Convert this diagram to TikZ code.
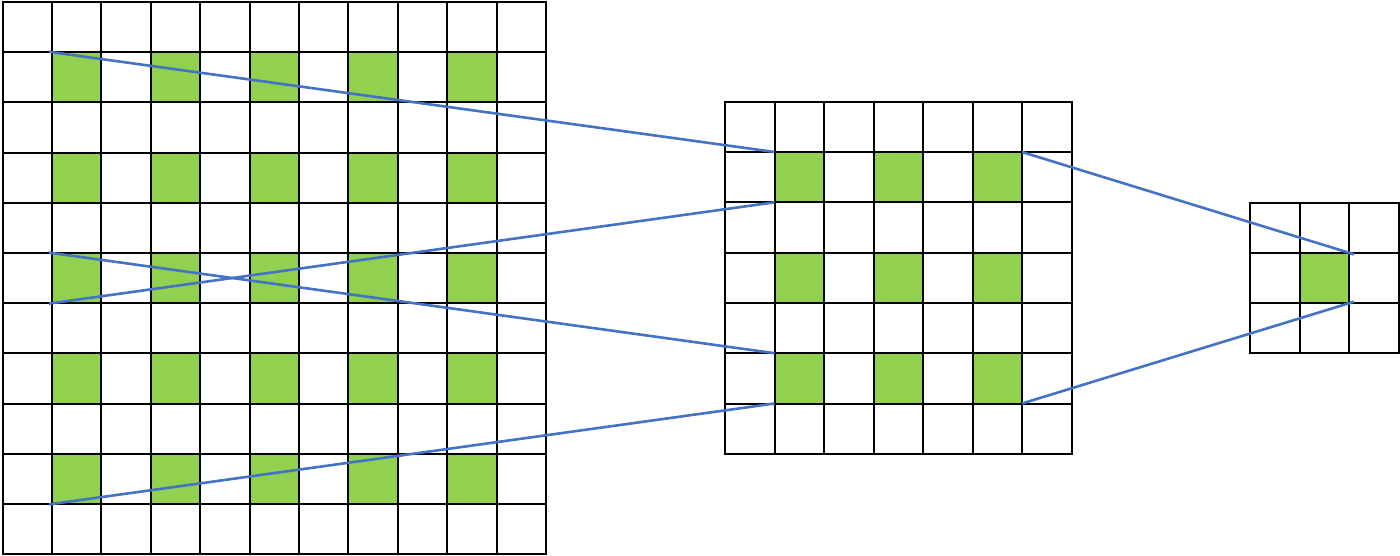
\documentclass[tikz,border=0pt]{standalone}
\definecolor{cellgreen}{HTML}{92D050}
\definecolor{linkblue}{HTML}{4472C4}
\begin{document}
\begin{tikzpicture}[x=1pt,y=-1pt,
  gridline/.style={line width=2pt,draw=black},
  cellfill/.style={fill=cellgreen},
  link/.style={line width=2.6pt,draw=linkblue}]
\useasboundingbox (0,0) rectangle (1400,556);
% left grid 11x11
\begin{scope}[shift={(2.5pt,-2pt)},x=49.4pt,y=-50.2pt]
  \foreach \r in {1,3,...,9} \foreach \c in {1,3,...,9} \fill[cellfill] (\c,\r) rectangle ++(1,1);
  \foreach \i in {1,...,10} {\draw[gridline] (\i,0) -- (\i,11); \draw[gridline] (0,\i) -- (11,\i);}
  \draw[gridline] (0,0) rectangle (11,11);
  \coordinate (L1) at (1,1);
  \coordinate (L2) at (1,6);
  \coordinate (L3) at (1,5);
  \coordinate (L4) at (1,10);
\end{scope}
% middle grid 7x7
\begin{scope}[shift={(725pt,-101.7pt)},x=49.5pt,y=-50.3pt]
  \foreach \r in {1,3,5} \foreach \c in {1,3,5} \fill[cellfill] (\c,\r) rectangle ++(1,1);
  \foreach \i in {1,...,6} {\draw[gridline] (\i,0) -- (\i,7); \draw[gridline] (0,\i) -- (7,\i);}
  \draw[gridline] (0,0) rectangle (7,7);
  \coordinate (M1) at (1,1);
  \coordinate (M2) at (1,2);
  \coordinate (M3) at (1,5);
  \coordinate (M4) at (1,6);
  \coordinate (M5) at (6,1);
  \coordinate (M6) at (6,6);
\end{scope}
% right grid 3x3
\begin{scope}[shift={(1250pt,-202.7pt)},x=49.7pt,y=-50.2pt]
  \fill[cellfill] (1,1) rectangle ++(1,1);
  \foreach \i in {1,2} {\draw[gridline] (\i,0) -- (\i,3); \draw[gridline] (0,\i) -- (3,\i);}
  \draw[gridline] (0,0) rectangle (3,3);
  \coordinate (R1) at (2,1);
  \coordinate (R2) at (2,2);
\end{scope}
% links
\draw[link,shorten <=-3pt] (L1) -- (M1);
\draw[link,shorten <=-3pt] (L2) -- (M2);
\draw[link,shorten <=-3pt] (L3) -- (M3);
\draw[link,shorten <=-3pt] (L4) -- (M4);
\draw[link,shorten >=-5pt] (M5) -- (R1);
\draw[link,shorten >=-5pt] (M6) -- (R2);
\end{tikzpicture}
\end{document}
